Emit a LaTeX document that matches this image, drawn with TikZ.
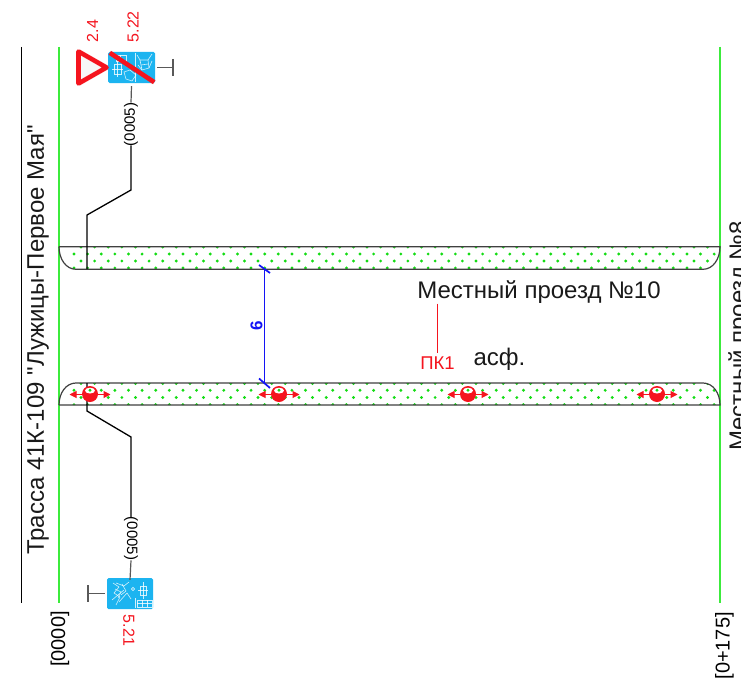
\documentclass[tikz,border=0pt]{standalone}
\usepackage{fontspec}
\setmainfont{Liberation Sans}
\newfontfamily\rawsans{Liberation Sans}
\usetikzlibrary{arrows.meta}
\definecolor{grn}{RGB}{60,235,60}
\definecolor{dots}{RGB}{20,220,20}
\definecolor{sky}{RGB}{28,180,240}
\definecolor{rd}{RGB}{245,20,30}
\definecolor{blu}{RGB}{20,20,245}
\tikzset{
  lbl/.style={inner sep=0pt,font=\fontsize{24}{24}\selectfont,text=black!90},
  small/.style={inner sep=0pt,font=\fontsize{15}{15}\selectfont},
  redlbl/.style={inner sep=0pt,font=\fontsize{16}{16}\selectfont,text=rd},
  road/.style={draw=black!75,line width=1.2pt},
  lane/.style={line width=1.3pt,black},
  tee/.style={draw=black!65,line width=1.2pt},
  icon/.style={white,line width=.6pt,opacity=.8},
  dot/.style={fill=dots,draw=none},
  arr/.style={rd,line width=1pt,{Triangle[length=7pt,width=7pt]}-{Triangle[length=7pt,width=7pt]}}
}
\newcommand{\roaddots}[4]{%
  \foreach \yy/\xs in {#1/#2,#3/#4}{%
    \foreach \k in {0,...,48}{\fill[dot] ({\xs+13.62*\k},\yy) circle (1.6);}}}
\newcommand{\marker}[1]{%
  \fill[rd] (#1,394) circle (8);
  \fill[white] (#1,390.6) ellipse (5 and 2.9);
  \fill[dot] (#1,390.3) circle (1.6);
  \draw[arr] (#1-20.5,394.5) -- (#1+20.5,394.5);
}
\newcommand{\iconA}[2]{%
  \begin{scope}[shift={(#1,#2)}]
    \draw[icon] (6,12) rectangle (13,22); \draw[icon] (9.5,9) -- (9.5,25); \draw[icon] (4,17) -- (15,17);
    \draw[icon] (8,3) -- (18,3) -- (18,9) -- (8,9) -- cycle; \draw[icon] (12,3) -- (12,9);
    \draw[icon] (16,20) -- (22,18) -- (28,23) -- (24,29) -- (18,27) -- cycle;
    \draw[icon] (29,3) -- (32,8) -- (40,8) -- (44,2); \draw[icon] (30,13) -- (34,18) -- (41,16) -- (44,9);
    \draw[icon] (32,8) -- (34,18); \draw[icon] (40,8) -- (41,16); \draw[icon] (33,13) -- (40,12);
    \draw[icon] (27,1) -- (27,30);
  \end{scope}}
\newcommand{\iconB}[2]{%
  \begin{scope}[shift={(#1,#2)}]
    \draw[icon] (6,5) -- (12,9) -- (7,15) -- (13,19) -- (9,27);
    \draw[icon] (9,5) -- (17,8) -- (22,4); \draw[icon] (5,22) -- (17,12);
    \draw[icon] (12,24) -- (20,15) -- (24,21); \draw[icon] (8,11) -- (14,14) -- (11,20);
    \draw[icon] (15,6) -- (19,13) -- (14,17);
    \draw[icon] (33,8) rectangle (39,17); \draw[icon] (36,4) -- (36,21); \draw[icon] (31,12.5) -- (41,12.5);
    \draw[icon] (30,22) rectangle (45,29); \draw[icon] (30,25.5) -- (45,25.5);
    \draw[icon] (35,22) -- (35,29); \draw[icon] (40,22) -- (40,29);
    \draw[icon] (26,11) circle (1.6); \draw[icon] (28,20) -- (28,30);
  \end{scope}}
\begin{document}
\begin{tikzpicture}[x=1pt,y=-1pt]
\useasboundingbox (0,0) rectangle (741,677);
\fill[white] (0,0) rectangle (741,677);
% limits
\coordinate (blT) at (21,47); \coordinate (blB) at (21,603);
\coordinate (g1T) at (59,47); \coordinate (g1B) at (59,603);
\coordinate (g2T) at (720,47); \coordinate (g2B) at (720,603);
\draw[black,line width=.9pt] (blT) -- (blB);
\draw[grn,line width=1.4pt] (g1T) -- (g1B);
\draw[grn,line width=1.4pt] (g2T) -- (g2B);
% roads
\begin{scope}
  \clip (59,246.7) -- (720,246.7) .. controls (720,259) and (713,269.3) .. (703,269.3) -- (76,269.3) .. controls (66,269.3) and (59,259) .. (59,246.7) -- cycle;
  \roaddots{247}{81}{254}{74}
  \roaddots{261}{81}{268}{74}
\end{scope}
\draw[road] (59,246.7) -- (720,246.7) .. controls (720,259) and (713,269.3) .. (703,269.3) -- (76,269.3) .. controls (66,269.3) and (59,259) .. (59,246.7);
\begin{scope}
  \clip (59,405) -- (720,405) .. controls (720,393) and (713,383) .. (703,383) -- (76,383) .. controls (66,383) and (59,393) .. (59,405) -- cycle;
  \roaddots{383.5}{81}{390.3}{74}
  \roaddots{397.5}{81}{404.6}{74}
\end{scope}
\draw[road] (59,405) -- (720,405) .. controls (720,393) and (713,383) .. (703,383) -- (76,383) .. controls (66,383) and (59,393) .. (59,405);
% lanes and (0005) labels
\node[small,rotate=90] (codeT) at (131,124.5) {(0005)};
\node[small,rotate=-90] (codeB) at (131,538.5) {(0005)};
\coordinate (laneTs) at (87,269);
\coordinate (laneBs) at (87,383);
\draw[lane] (laneTs) -- (87,215) -- (131,190) -- ([yshift=1pt]codeT.west);
\draw[lane] (laneBs) -- (87,411) -- (131,437) -- ([yshift=-1pt]codeB.west);
% signs
\node[draw=none,fill=sky,rounded corners=1.5pt,minimum width=47pt,minimum height=31pt,inner sep=0pt] (signT) at (131.5,67.5) {};
\iconA{108}{52}
\node[draw=none,fill=sky,rounded corners=1.5pt,minimum width=46pt,minimum height=31pt,inner sep=0pt] (signB) at (130,593.5) {};
\iconB{107}{578}
\draw[rd,line width=4.6pt] ([shift={(2,1)}]signT.north west) -- ([shift={(-1,-1)}]signT.south east);
\draw[rd,line width=4.6pt,fill=white!97!black,line join=round] (78.5,51.5) -- (78.5,83.5) -- (106.5,67.5) -- cycle;
% tees
\coordinate (teeT) at (173,67.5); \coordinate (teeB) at (88,593.5);
\draw[tee] ([xshift=2pt]signT.east) -- (teeT);
\draw[tee] (173,59) -- (173,76);
\draw[tee] ([xshift=-2pt]signB.west) -- (teeB);
\draw[tee] (88,585) -- (88,602);
\draw[tee] (codeT.east) -- ([yshift=-3pt]signT.south);
\draw[tee] (codeB.east) -- ([yshift=-2pt]signB.north);
% labels
\node[lbl,rotate=90] (title) at (38,340) {\rawsans Трасса 41К-109 "Лужицы-Первое Мая"};
\node[redlbl,rotate=90,anchor=west] (l24) at (92.5,42.5) {2.4};
\node[redlbl,rotate=90,anchor=west] (l522) at (133,42.5) {5.22};
\node[redlbl,rotate=-90] (l521) at (129,630.5) {5.21};
\node[small,rotate=90,font=\fontsize{20}{20}\selectfont] (k0) at (60,639) {[0000]};
\node[small,rotate=90,font=\fontsize{20}{20}\selectfont,anchor=east] (k1) at (724.5,612) {[0+175]};
\node[lbl,rotate=90,anchor=base west] (p8) at (746,451) {Местный проезд №8};
\node[lbl] (p10) at (539,292) {Местный проезд №10};
\node[redlbl,font=\fontsize{18.5}{19}\selectfont] (pk) at (437.5,363) {ПК1};
\node[lbl] (asf) at (499.5,359) {асф.};
\draw[rd,line width=.9pt] (p10.south -| pk) -- ([yshift=3pt]pk.north);
% dimension
\coordinate (dT) at (264.5,268.5); \coordinate (dB) at (264.5,384);
\draw[blu,line width=1.7pt] (dT) -- (dB);
\draw[blu,line width=1.7pt] (259,265) -- (270,273);
\draw[blu,line width=1.7pt] (259,378.5) -- (270,388);
\node[inner sep=0pt,rotate=90,text=blu,font=\fontsize{17}{17}\selectfont\bfseries] (dim) at (256.5,325.7) {6};
% markers
\marker{90}\marker{279}\marker{468}\marker{657}
\end{tikzpicture}
\end{document}
